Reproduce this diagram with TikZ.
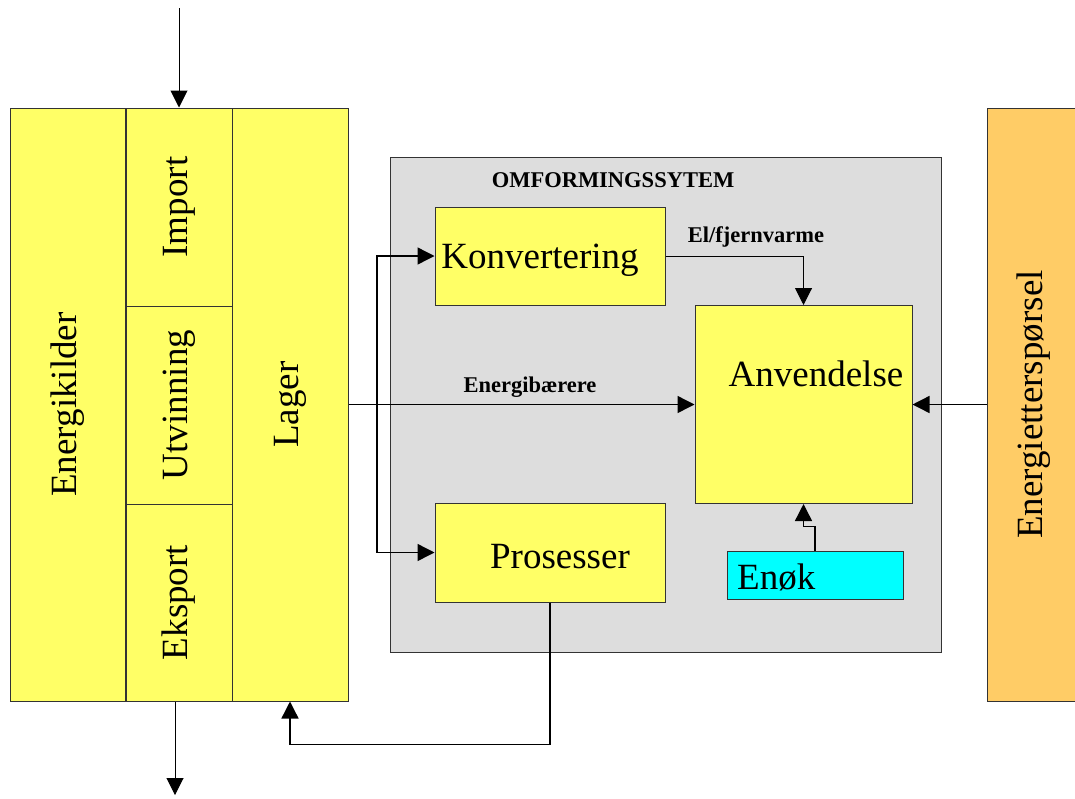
\documentclass[tikz,border=0pt]{standalone}
\usepackage{fontspec}
\setmainfont{Liberation Serif}
\usepackage{graphicx}
\usetikzlibrary{arrows.meta}
\definecolor{gul}{HTML}{FFFF66}
\definecolor{oransje}{HTML}{FFCC66}
\definecolor{graa}{HTML}{DDDDDD}
\definecolor{turkis}{HTML}{00FFFF}
\definecolor{kant}{HTML}{333333}
\begin{document}
\begin{tikzpicture}[x=1pt, y=-1pt,
        boks/.style={draw=kant, line width=1pt, fill=gul, inner sep=0pt},
        stor/.style={font=\fontsize{37}{40}\selectfont},
        liten/.style={font=\bfseries\fontsize{22.5}{25}\selectfont},
        pil/.style={-{Triangle[length=17pt,width=17pt]}, line width=1.4pt}]
            \useasboundingbox (0,0) rectangle (1075,798);

            \node[boks, stor, minimum width=115pt, minimum height=593pt] (energikilder) at (67.5,404.5) {\rotatebox{90}{Energikilder}};
            \node[boks, stor, minimum width=106pt, minimum height=198pt] (import) at (179,207) {\rotatebox{90}{Import}};
            \node[boks, stor, minimum width=106pt, minimum height=198pt] (utvinning) at (179,405) {\rotatebox{90}{Utvinning}};
            \node[boks, stor, minimum width=106pt, minimum height=197pt] (eksport) at (179,602.5) {\rotatebox{90}{Eksport}};
            \node[boks, stor, minimum width=116pt, minimum height=593pt] (lager) at (290,404.5) {\rotatebox{90}{Lager}};
            \node[boks, stor, fill=oransje, minimum width=93pt, minimum height=593pt] (etterspoersel) at (1033.5,404.5) {\rotatebox{90}{Energietterspørsel}};

            \node[boks, fill=graa, minimum width=551pt, minimum height=495pt] (omforming) at (665.5,404.5) {};
            \node[liten] (omforming-tittel) at (613,180) {OMFORMINGSSYTEM};

            \node[boks, minimum width=230pt, minimum height=98pt] (konvertering) at (550,256) {};
            \node[boks, minimum width=217pt, minimum height=198pt] (anvendelse) at (803.5,404.5) {};
            \node[boks, minimum width=230pt, minimum height=99pt] (prosesser) at (550,552.5) {};
            \node[boks, fill=turkis, minimum width=176pt, minimum height=48pt] (enok) at (815,575) {};

            \node[stor] (konvertering-txt) at (540,260) {Konvertering};
            \node[stor] (anvendelse-txt) at (816,374) {Anvendelse};
            \node[stor] (prosesser-txt) at (560,557) {Prosesser};
            \node[stor, anchor=west, inner sep=0pt] (enok-txt) at (737,577) {Enøk};
            \node[liten] (baerere-txt) at (530,387) {Energibærere};
            \node[liten] (fjernvarme-txt) at (756,237) {El/fjernvarme};

            \coordinate (inn) at (179,8);
            \coordinate (ut) at (175,795);
            \coordinate (gren) at (377,404.5);

            \draw[pil, line width=1pt] (inn) -- (import.north);
            \draw[pil, line width=1pt] (eksport.south -| ut) -- (ut);
            \draw[pil] (lager.east |- anvendelse.west) -- (anvendelse.west);
            \draw[pil] (gren) |- (konvertering.west);
            \draw[pil] (gren) |- (prosesser.west);
            \draw[pil, line width=1pt] (konvertering.east) -| (anvendelse.north);
            \draw[pil] (enok.north) -- ++(0,-24) -| (anvendelse.south);
            \draw[pil] (etterspoersel.west) -- (anvendelse.east);
            \draw[pil] (prosesser.south) -- ++(0,142) -| (lager.south);
        \end{tikzpicture}
\end{document}
